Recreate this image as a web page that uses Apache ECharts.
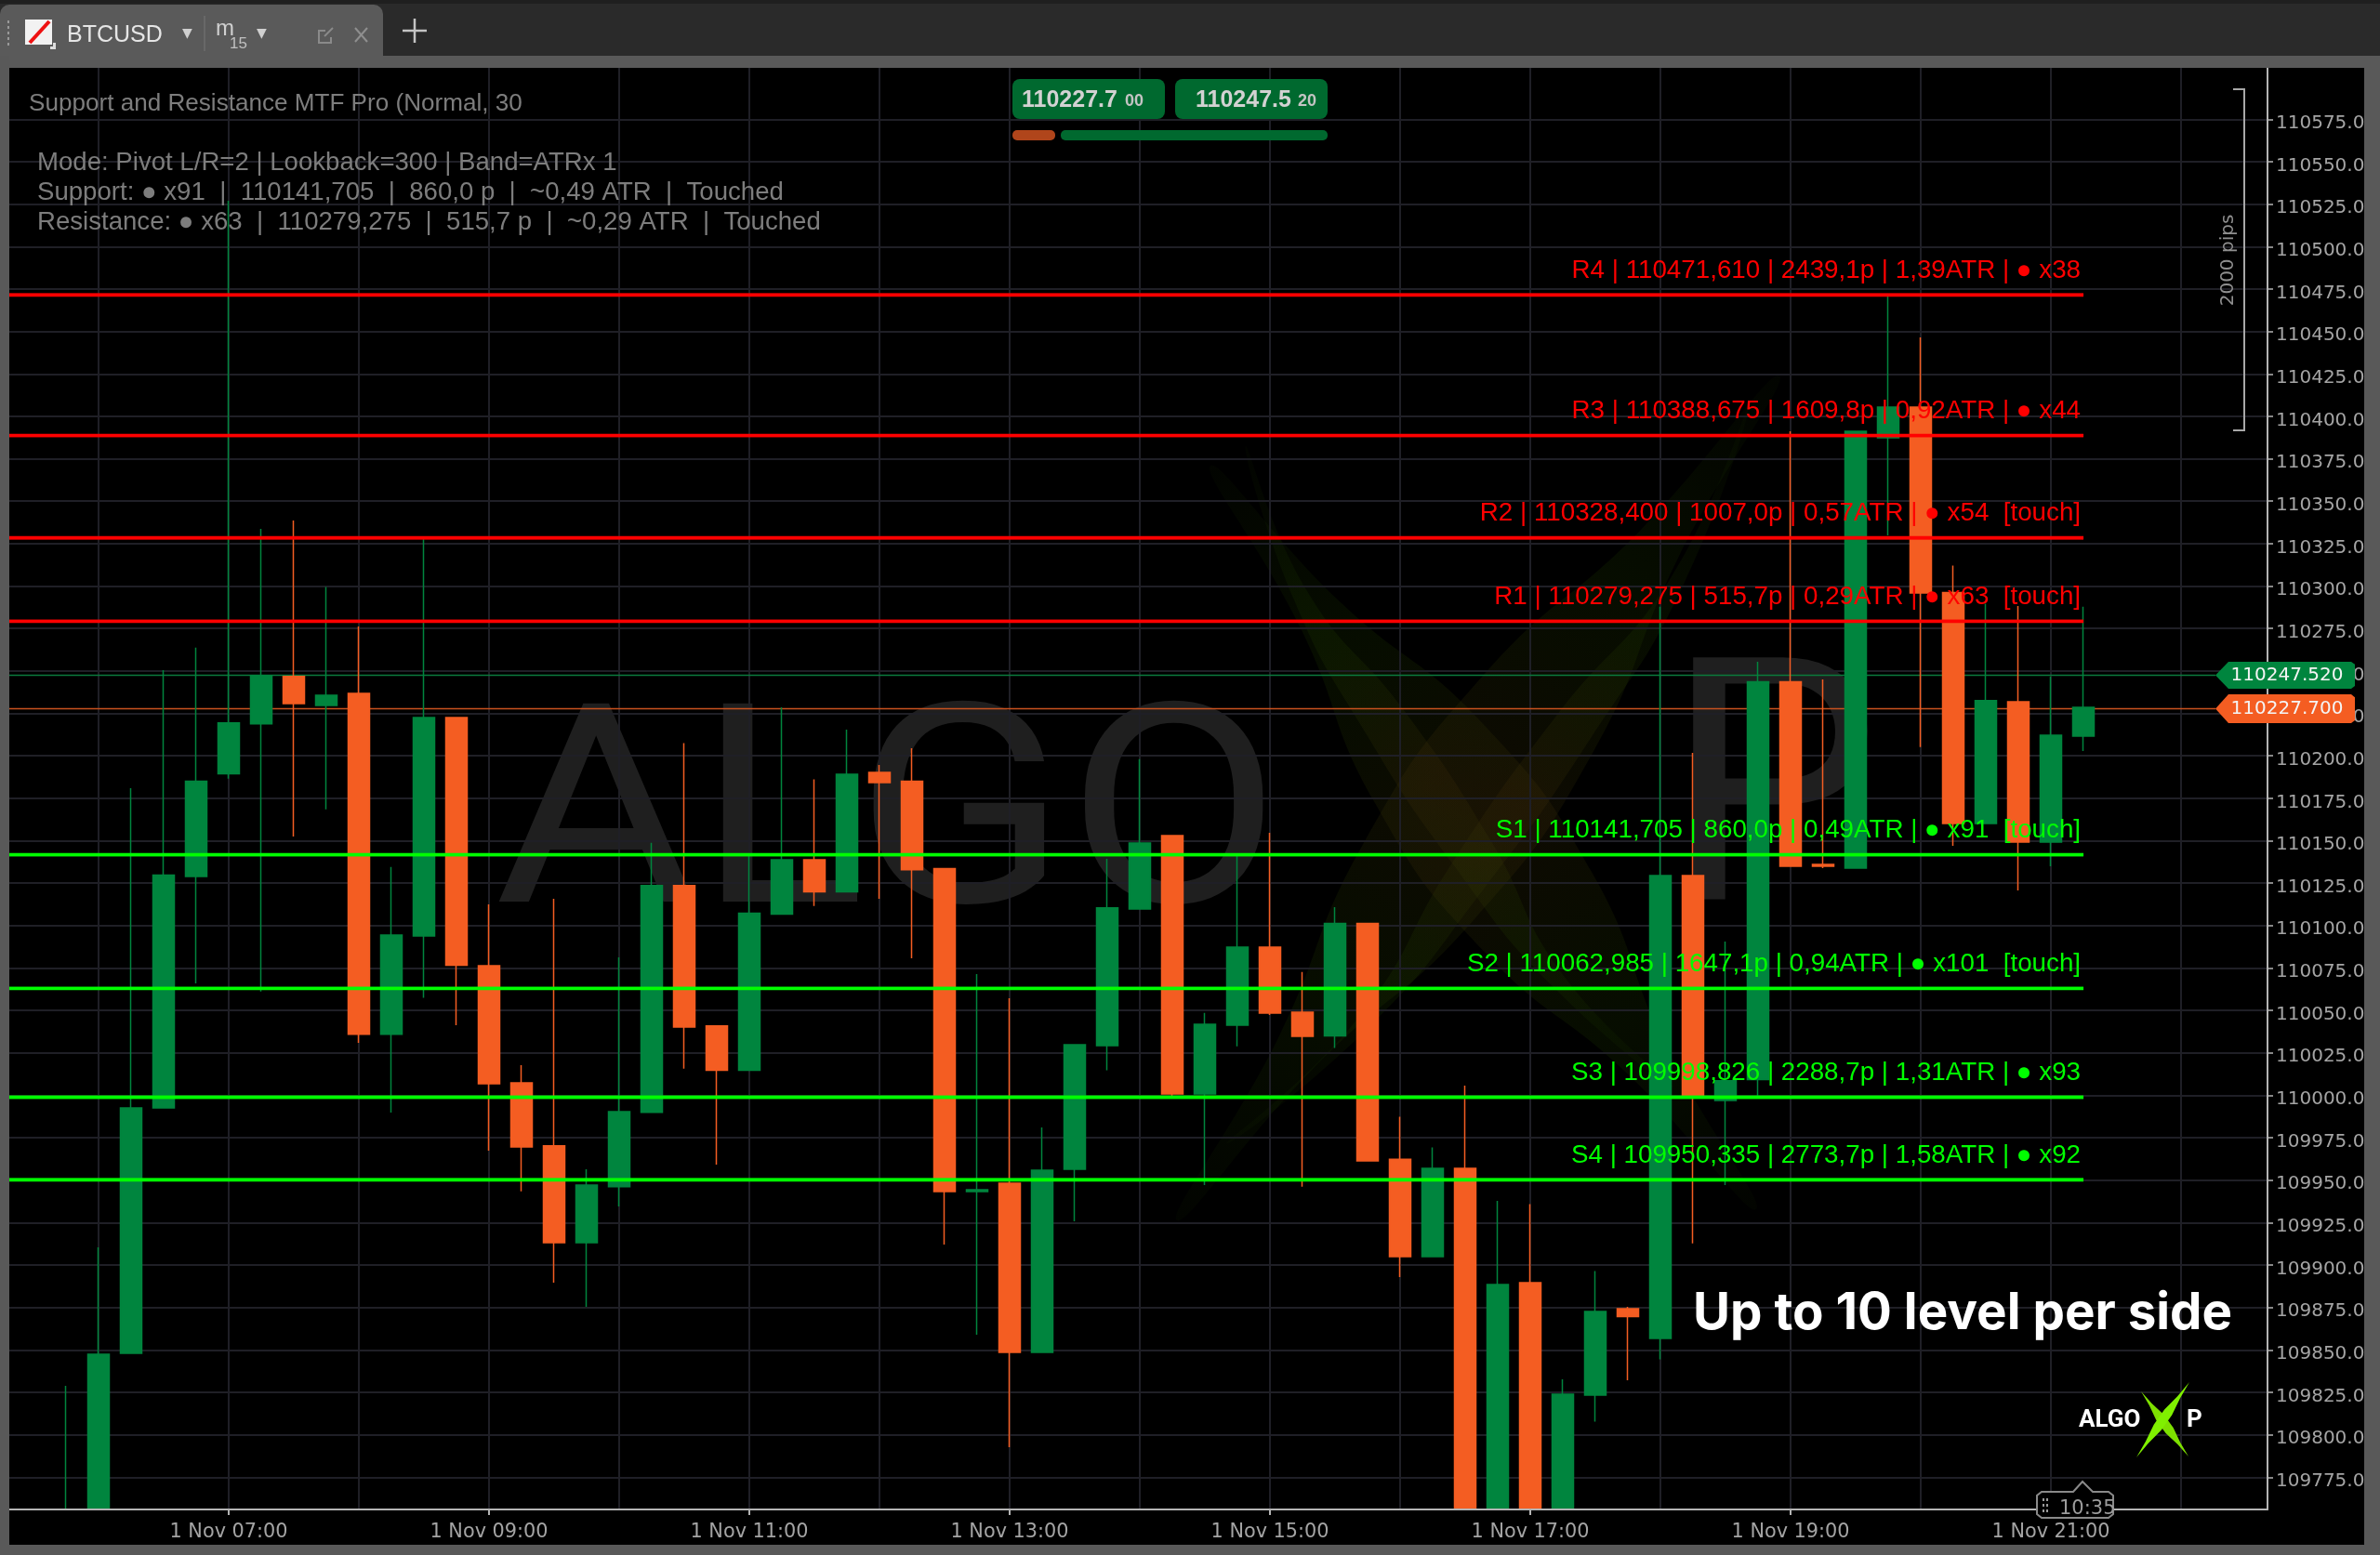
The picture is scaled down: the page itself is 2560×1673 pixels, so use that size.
<!DOCTYPE html>
<html>
<head>
<meta charset="utf-8">
<title>BTCUSD</title>
<style>html,body{margin:0;padding:0;background:#000}#c{width:2560px;height:1673px}</style>
<script src="https://cdn.jsdelivr.net/npm/echarts@6/dist/echarts.min.js"></script>
</head>
<body>
<div id="c"></div>
<script>
// Data
const times = ['05:45','06:00','06:15','06:30','06:45','07:00','07:15','07:30','07:45','08:00','08:15','08:30','08:45','09:00','09:15','09:30','09:45','10:00','10:15','10:30','10:45','11:00','11:15','11:30','11:45','12:00','12:15','12:30','12:45','13:00','13:15','13:30','13:45','14:00','14:15','14:30','14:45','15:00','15:15','15:30','15:45','16:00','16:15','16:30','16:45','17:00','17:15','17:30','17:45','18:00','18:15','18:30','18:45','19:00','19:15','19:30','19:45','20:00','20:15','20:30','20:45','21:00','21:15'];
const opens = [109700,109720,109848.0,109992.6,110128.9,110189.4,110218.8,110246.8,110229.6,110236.8,110036.0,110093.8,110222.5,110076.3,110007.3,109970.3,109913.1,109946.2,109990.0,110123.6,110040.9,110014.7,110106.7,110138.8,110119.9,110190.2,110185.0,110133.5,109943.3,109948.2,109848.5,109956.4,110029.3,110109.8,110153.0,110000.8,110041.3,110087.3,110049.0,110035.0,110101.2,109962.3,109904.9,109957.0,109720,109889.6,109720,109823.4,109874.3,109856.8,110129.4,109996.9,110009.2,110243.6,110136.0,110133.8,110387.4,110405.4,110296.2,110160.1,110231.8,110149.2,110211.6];
const closes = [109730,109847.5,109992.6,110129.7,110185.0,110219.4,110247.3,110230.7,110235.7,110036.0,110094.4,110222.5,110076.6,110006.8,109969.6,109913.1,109947.1,109990.4,110123.6,110040.2,110014.7,110107.3,110138.8,110119.9,110189.1,110184.2,110132.9,109943.3,109944.3,109848.5,109955.9,110029.8,110110.4,110148.6,110000.8,110041.8,110087.3,110048.4,110034.7,110101.2,109961.3,109904.9,109957.0,109720,109888.5,109720,109823.9,109872.6,109869.6,110129.4,109999.9,110008.6,110243.6,110134.9,110134.9,110391.2,110405.4,110295.9,110160.1,110232.6,110149.2,110212.2,110228.6];
const lows = [109690,109710,109848.0,109992.6,110065.9,110186.5,110061.2,110152.4,110168.5,110030.9,109989.8,110057.4,110041.3,109967.4,109943.4,109889.6,109875.4,109934.5,109990.0,110015.7,109959.1,110014.7,110106.7,110111.5,110119.9,110115.7,110080.7,109912.1,109858.9,109792.7,109848.5,109925.7,110014.7,110109.8,109999.7,109947.1,110028.9,110047.3,109946.2,110027.9,109961.3,109892.9,109904.9,109700,109700,109700,109700,109807.8,109832.1,109844.4,109912.8,109947.1,109999.1,110134.9,110133.8,110133.8,110329.9,110205.2,110147.0,110160.1,110120.7,110134.9,110202.8];
const highs = [109828.8,109910.4,110180.9,110250.5,110263.8,110527.0,110333.7,110338.6,110299.5,110276.2,110134.5,110327.7,110222.5,110112.5,110017.7,110115.7,109956.4,110081.2,110148.8,110207.5,110040.9,110141.5,110228.6,110186.1,110215.4,110194.6,110204.5,110133.5,110071.4,110057.2,109981.1,110029.8,110139.3,110198.1,110153.0,110048.6,110140.9,110154.6,110072.7,110110.8,110101.2,109987.3,109969.3,110005.7,109937.8,109935.9,109832.7,109896.5,109875.4,110287.9,110201.8,110090.6,110255.4,110391.2,110245.0,110391.2,110470.6,110446.5,110312.1,110289.6,110288.2,110246.6,110287.9];

const priceTicks = [109775,109800,109825,109850,109875,109900,109925,109950,109975,110000,110025,110050,110075,110100,110125,110150,110175,110200,110225,110250,110275,110300,110325,110350,110375,110400,110425,110450,110475,110500,110525,110550,110575];
const labelHours = [7,9,11,13,15,17,19,21];
const gridHours = [6,7,8,9,10,11,12,13,14,15,16,17,18,19,20,21,22];

const levelNames = ['R4','R3','R2','R1','S1','S2','S3','S4'];
const levelValues = [110471.610,110388.675,110328.400,110279.275,110141.705,110062.985,109998.826,109950.335];
const levelTexts = [
  'R4 | 110471,610 | 2439,1p | 1,39ATR | ● x38',
  'R3 | 110388,675 | 1609,8p | 0,92ATR | ● x44',
  'R2 | 110328,400 | 1007,0p | 0,57ATR | ● x54  [touch]',
  'R1 | 110279,275 | 515,7p | 0,29ATR | ● x63  [touch]',
  'S1 | 110141,705 | 860,0p | 0,49ATR | ● x91  [touch]',
  'S2 | 110062,985 | 1647,1p | 0,94ATR | ● x101  [touch]',
  'S3 | 109998,826 | 2288,7p | 1,31ATR | ● x93',
  'S4 | 109950,335 | 2773,7p | 1,58ATR | ● x92'
];
const askPrice = 110247.520;
const bidPrice = 110227.700;

const xMin = 5.3143, xMax = 22.664, yMin = 109756, yMax = 110605.3;
const lastHour = 21.25, tagHour = 22.264;
const hourOf = t => { const p = t.split(':'); return +p[0] + (+p[1]) / 60; };

const candleData = times.map((t, i) => [hourOf(t), opens[i], closes[i], lows[i], highs[i]]);

const sans = '"Liberation Sans", Arial, sans-serif';
const dejavu = '"DejaVu Sans", sans-serif';

function txt(text, x, y, fill, font, extra) {
  return Object.assign({ type: 'text', z: 100, silent: true, style: Object.assign({ text, x, y, fill, font, textVerticalAlign: 'middle' }, extra && extra.style) }, extra && extra.el);
}
function rect(x, y, w, h, fill, z, r) {
  return { type: 'rect', z: z == null ? 100 : z, silent: true, shape: { x, y, width: w, height: h, r: r || 0 }, style: { fill } };
}
function line(x1, y1, x2, y2, stroke, w, z) {
  return { type: 'line', z: z == null ? 100 : z, silent: true, shape: { x1, y1, x2, y2 }, style: { stroke, lineWidth: w } };
}
function lens(x1, y1, x2, y2, hw, fill, z, off, smooth) {
  const dx = x2 - x1, dy = y2 - y1, L = Math.hypot(dx, dy), nx = -dy / L, ny = dx / L;
  const o = off || 0;
  const m = (t, s) => [x1 + dx * t + nx * (s + o), y1 + dy * t + ny * (s + o)];
  return { type: 'polygon', z, silent: true, shape: { points: [
    [x1, y1], m(.2, hw * .35), m(.4, hw), m(.6, hw), m(.8, hw * .35), [x2, y2], m(.8, -hw * .35), m(.6, -hw), m(.4, -hw), m(.2, -hw * .35)
  ], smooth: smooth || 0 }, style: { fill } };
}
function fade(flip) {
  return { type: 'linear', x: flip ? 1 : 0, y: 0, x2: flip ? 0 : 1, y2: 1, colorStops: [
    { offset: 0, color: 'rgba(40,80,0,0.05)' }, { offset: .25, color: 'rgba(40,80,0,0.16)' }, { offset: .5, color: 'rgba(70,50,10,0.20)' }, { offset: .75, color: 'rgba(40,80,0,0.16)' }, { offset: 1, color: 'rgba(40,80,0,0.05)' }
  ] };
}

const graphicEls = [
  // big watermark
  { type: 'text', z: -1, silent: true, x: 532, y: 1045, scaleX: 1.115, style: { text: 'ALGO', x: 0, y: 0, fill: '#1f1f1f', font: '300px Roboto', textVerticalAlign: 'bottom' } },
  { type: 'text', z: -1, silent: true, x: 1791, y: 1059, style: { text: 'P', x: 0, y: 0, fill: '#1f1f1f', font: '366px Roboto', textVerticalAlign: 'bottom' } },
  lens(1302, 501, 1889, 1301, 72, fade(false), -1, 0, .5),
  lens(1340, 480, 1800, 1170, 24, fade(false), -1, 40, .5),
  lens(1914, 404, 1266, 1313, 72, fade(true), -1, 0, .5),
  lens(1880, 440, 1320, 1230, 22, fade(true), -1, -45, .5),

  // window frame
  rect(0, 0, 2560, 60, '#2a2a2a'),
  rect(0, 0, 2560, 4, '#1f1f1f'),
  rect(0, 60, 2560, 13, '#595959'),
  { type: 'rect', z: 100, silent: true, shape: { x: 0, y: 5, width: 412, height: 60, r: [10, 10, 0, 0] }, style: { fill: '#5a5a5a' } },
  rect(0, 60, 10, 1613, '#595959'),
  rect(2543, 60, 17, 1613, '#595959'),
  rect(0, 1662, 2560, 11, '#595959'),
  // panel below the x axis: bars that run past the axis end here
  rect(10, 1625, 2533, 37, '#000000', 3),

  // tab contents
  rect(8, 22, 2, 3, '#999', 101), rect(8, 28, 2, 3, '#999', 101), rect(8, 34, 2, 3, '#999', 101), rect(8, 40, 2, 3, '#999', 101), rect(8, 46, 2, 3, '#999', 101),
  rect(27, 21, 29, 27, '#f2f2f2', 101),
  line(32, 46, 53, 23, '#ee1111', 4, 102),
  rect(57, 46, 3, 7, '#dddddd', 101), rect(54, 50, 6, 3, '#dddddd', 101),
  txt('BTCUSD', 72, 38, '#e6e6e6', '25px ' + sans),
  txt('▼', 196, 36, '#d0d0d0', '14px ' + dejavu),
  line(220, 17, 220, 55, '#6e6e6e', 1.5, 101),
  txt('m', 232, 31, '#d0d0d0', '24px ' + sans),
  txt('15', 247, 47, '#c0c0c0', '17px ' + sans),
  txt('▼', 276, 36, '#d0d0d0', '14px ' + dejavu),
  { type: 'polyline', z: 101, silent: true, shape: { points: [[350, 33], [343, 33], [343, 46], [356, 46], [356, 40]] }, style: { stroke: '#8a8a8a', lineWidth: 2, fill: 'none' } },
  line(349, 39, 358, 30, '#8a8a8a', 2, 101),
  line(382, 30, 395, 45, '#8f8f8f', 2, 101),
  line(395, 30, 382, 45, '#8f8f8f', 2, 101),
  line(433, 33, 459, 33, '#c4c4c4', 2.5, 101),
  line(446, 20, 446, 46, '#c4c4c4', 2.5, 101),

  // indicator header
  txt('Support and Resistance MTF Pro (Normal, 30', 31, 112, '#7d7d7d', '26.1px ' + sans),
  txt('Mode: Pivot L/R=2 | Lookback=300 | Band=ATRx 1', 40, 175, '#7d7d7d', '27.6px ' + sans),
  txt('Support: ● x91  |  110141,705  |  860,0 p  |  ~0,49 ATR  |  Touched', 40, 207, '#7d7d7d', '27.6px ' + sans),
  txt('Resistance: ● x63  |  110279,275  |  515,7 p  |  ~0,29 ATR  |  Touched', 40, 239, '#7d7d7d', '27.6px ' + sans),

  // bid/ask pills
  rect(1089, 85, 164, 43, '#00692f', 50, 8),
  rect(1264, 85, 164, 43, '#00692f', 50, 8),
  txt('110227.7', 1099, 108, '#d2d2d2', 'bold 25px ' + sans, { el: { z: 51 } }),
  txt('00', 1210, 109, '#c4c4c4', 'bold 18px ' + sans, { el: { z: 51 } }),
  txt('110247.5', 1286, 108, '#d2d2d2', 'bold 25px ' + sans, { el: { z: 51 } }),
  txt('20', 1396, 109, '#c4c4c4', 'bold 18px ' + sans, { el: { z: 51 } }),
  rect(1089, 140, 46, 11, '#b0451b', 50, 5),
  rect(1141, 140, 287, 11, '#00692f', 50, 5),

  // 2000 pips bracket
  { type: 'polyline', z: 50, silent: true, shape: { points: [[2402, 96], [2414, 96], [2414, 463], [2402, 463]] }, style: { stroke: '#a8a8a8', lineWidth: 2, fill: 'none' } },
  { type: 'text', z: 50, silent: true, rotation: Math.PI / 2, x: 2397, y: 280, style: { text: '2000 pips', x: 0, y: 0, fill: '#8f8f8f', font: '20px ' + dejavu, textAlign: 'center', textVerticalAlign: 'middle' } },

  // caption
  txt('Up to 10 level per side', 1821, 1414, '#ffffff', 'bold 54.7px Inter', { el: { z: 60 } }),

  // small logo
  txt('ALGO', 2236, 1528, '#ffffff', 'bold 26px Roboto', { el: { z: 60 } }),
  txt('P', 2352, 1528, '#ffffff', 'bold 26px Roboto', { el: { z: 60 } }),
  lens(2303, 1497, 2354, 1567, 5, '#7ee000', 60),
  lens(2355, 1487, 2298, 1568, 5, '#80f000', 60),

  // time cursor
  { type: 'polygon', z: 60, silent: true, shape: { points: [[2196, 1605], [2230, 1605], [2240, 1594], [2251, 1605], [2268, 1605], [2273, 1609], [2273, 1629], [2268, 1633], [2196, 1633], [2191, 1629], [2191, 1609]] }, style: { fill: '#000', stroke: '#8a8a8a', lineWidth: 2 } },
  rect(2197, 1612, 2, 3, '#9a9a9a', 61), rect(2201, 1612, 2, 3, '#9a9a9a', 61),
  rect(2197, 1618, 2, 3, '#9a9a9a', 61), rect(2201, 1618, 2, 3, '#9a9a9a', 61),
  rect(2197, 1624, 2, 3, '#9a9a9a', 61), rect(2201, 1624, 2, 3, '#9a9a9a', 61),
  txt('10:35', 2215, 1624, '#9c9c9c', '21px ' + dejavu, { el: { z: 61 } })
];

const levelSeries = levelValues.map((v, i) => {
  const col = i < 4 ? '#ff0000' : '#00ff00';
  return {
    type: 'line', name: levelNames[i], xAxisIndex: 0, yAxisIndex: 0, z: 4, silent: true,
    symbol: 'none', animation: false,
    lineStyle: { color: col, width: 3.4 },
    data: [[xMin, v], [lastHour, v]],
    markLine: {
      silent: true, animation: false, symbol: 'none', precision: 3, z: 6,
      lineStyle: { color: col, width: 3.4, type: 'solid' },
      label: { show: true, position: 'insideEndTop', distance: [3, 12], color: col,
        fontFamily: 'Liberation Sans', fontSize: 27.75, formatter: levelTexts[i] },
      data: [[{ coord: [xMin, v] }, { coord: [lastHour, v] }]]
    }
  };
});

function priceSeries(name, v, lineCol, tagCol, h) {
  return {
    type: 'line', name, xAxisIndex: 0, yAxisIndex: 0, z: 1, silent: true, symbol: 'none', animation: false,
    lineStyle: { color: lineCol, width: 1.5 },
    data: [[xMin, v], [tagHour, v]],
    markPoint: {
      silent: true, animation: false, z: 8,
      data: [{
        coord: [tagHour, v], value: v,
        symbol: 'path://M0 15 L14 0 L146 0 L150 3 L150 27 L146 30 L14 30 Z',
        symbolSize: [150, h], symbolOffset: [75, 0],
        itemStyle: { color: tagCol },
        label: { show: true, position: 'inside', offset: [2, 0], color: '#f4f4f4', fontFamily: 'DejaVu Sans', fontSize: 20, formatter: v.toFixed(3) }
      }]
    }
  };
}

const chart = echarts.init(document.getElementById('c'), null, { renderer: 'canvas' });
chart.setOption({
  animation: false,
  backgroundColor: '#000000',
  grid: { left: 10, right: 121, top: 73, bottom: 49, containLabel: false },
  xAxis: [
    { type: 'value', position: 'bottom', min: xMin, max: xMax, scale: true,
      axisLine: { show: false }, axisLabel: { show: false },
      axisTick: { show: false, customValues: gridHours },
      splitLine: { show: true, lineStyle: { color: '#1f1f26', width: 2 } } },
    { type: 'value', position: 'bottom', min: xMin, max: xMax, scale: true, z: 10,
      axisLine: { show: true, lineStyle: { color: '#b4b4b4', width: 2 } },
      axisTick: { show: true, length: 6, lineStyle: { color: '#b4b4b4', width: 2 }, customValues: labelHours },
      axisLabel: { show: true, customValues: labelHours, margin: 14, color: '#a4a4a4', fontFamily: 'DejaVu Sans', fontSize: 20.8,
        formatter: v => '1 Nov ' + String(v).padStart(2, '0') + ':00' },
      splitLine: { show: false } }
  ],
  yAxis: [{
    type: 'value', position: 'right', min: yMin, max: yMax, scale: true,
    axisLine: { show: true, lineStyle: { color: '#b4b4b4', width: 2 } },
    axisTick: { show: true, length: 6, lineStyle: { color: '#b4b4b4', width: 1.5 }, customValues: priceTicks },
    axisLabel: { show: true, customValues: priceTicks, margin: 9, color: '#a4a4a4', fontFamily: 'DejaVu Sans', fontSize: 20,
      verticalAlign: 'top', lineHeight: 9, formatter: v => v.toFixed(1) },
    splitLine: { show: true, lineStyle: { color: '#1f1f26', width: 2 } }
  }],
  series: [
    priceSeries('Ask', askPrice, '#0b7a3d', '#00853e', 29),
    priceSeries('Bid', bidPrice, '#c9521f', '#f45d22', 31),
    { type: 'candlestick', name: 'BTCUSD', xAxisIndex: 0, yAxisIndex: 0, z: 2, silent: true, animation: false,
      barWidth: 23, clip: true,
      encode: { x: 0, y: [1, 2, 3, 4] },
      itemStyle: { color: '#00853e', color0: '#f45d22', borderColor: '#00853e', borderColor0: '#f45d22', borderWidth: 1.5 },
      data: candleData },
    ...levelSeries
  ],
  graphic: { elements: graphicEls }
});
</script>
</body>
</html>
